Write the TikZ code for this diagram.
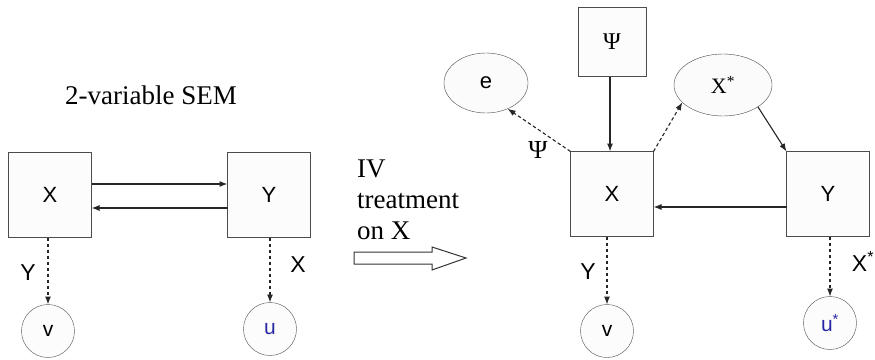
\documentclass[tikz,border=0pt]{standalone}
\usepackage{fontspec}
\setmainfont{Liberation Serif}
\newfontfamily\arialfont{Liberation Sans}
\usetikzlibrary{arrows.meta,shapes.geometric}
\definecolor{ublue}{RGB}{40,40,165}
\tikzset{
  varbox/.style={draw=black!70, fill=gray!2, inner sep=0pt, outer sep=0pt,
    minimum width=83pt, minimum height=85pt, font=\arialfont\fontsize{22}{26}\selectfont},
  errcirc/.style={circle, draw=black!70, fill=gray!2, inner sep=0pt, outer sep=0pt,
    minimum size=53pt, font=\arialfont\fontsize{21}{25}\selectfont},
  latent/.style={ellipse, draw=black!70, fill=gray!3, inner sep=0pt, outer sep=0pt},
  causal/.style={draw=black!85, line width=1.1pt, -{Latex[length=8pt,width=6pt]}},
  errpath/.style={causal, dash pattern=on 3.5pt off 2.5pt},
  edgelab/.style={font=\arialfont\fontsize{23}{27}\selectfont}
}
\begin{document}
\begin{tikzpicture}[x=1pt,y=-1pt]
    \useasboundingbox (0,0) rectangle (875,359);

    % left: 2-variable SEM
    \node[font=\rmfamily\fontsize{27}{32}\selectfont] (title) at (151,95) {2-variable SEM};
    \node[varbox] (lx) at (50,195) {X};
    \node[varbox] (ly) at (269,195) {Y};
    \node[errcirc] (lv) at (48,331) {v};
    \node[errcirc, text=ublue] (lu) at (270,329) {u};

    % feedback loop X <-> Y
    \draw[causal] ([yshift=11pt]lx.east) -- ([yshift=11pt]ly.west);
    \draw[causal] ([yshift=-13pt]ly.west) -- ([yshift=-13pt]lx.east);

    % errors
    \draw[errpath] (lx.south -| lv.north) -- (lv.north);
    \draw[errpath] (ly.south -| lu.north) -- (lu.north);
    \node[edgelab] (lyl) at (28,273) {Y};
    \node[edgelab] (lxl) at (298,265) {X};

    % IV treatment
    \node[anchor=north west, inner sep=0pt, align=left,
      font=\rmfamily\fontsize{27}{31}\selectfont] (treat) at (357,160) {IV\\treatment\\on X};
    \draw[black!80, line width=1pt, fill=white]
      (354,252) -- (432,252) -- (432,247) -- (466,258) -- (432,270)
      -- (432,264) -- (354,264) -- cycle;

    % right: after the IV treatment
    \node[varbox, minimum width=68pt, minimum height=69pt,
      font=\rmfamily\fontsize{24}{28}\selectfont] (rpsi) at (612,42) {Ψ};
    \node[latent, minimum width=84pt, minimum height=60pt,
      font=\arialfont\fontsize{22}{26}\selectfont] (re) at (486,83) {e};
    \node[latent, minimum width=98pt, minimum height=62pt,
      font=\rmfamily\fontsize{22}{26}\selectfont] (rxs) at (723,85) {X\textsuperscript{*}};
    \node[varbox] (rx) at (612,194) {X};
    \node[varbox] (ry) at (828,194) {Y};
    \node[errcirc] (rv) at (607,331) {v};
    \node[errcirc, text=ublue] (ru) at (830,323) {u\textsuperscript{*}};

    % paths
    \draw[causal] (rpsi.south -| 610,0) -- (rx.north -| 610,0);
    \draw[errpath] (rx.north west) -- (re.-50);
    \draw[errpath] (rx.north east) -- (rxs.-157);
    \draw[causal] (rxs.-32) -- (ry.north west);
    \draw[causal] ([yshift=-13pt]ry.west) -- ([yshift=-13pt]rx.east);
    \draw[errpath] (rx.south -| rv.north) -- (rv.north);
    \draw[errpath] (ry.south -| ru.north) -- (ru.north);

    % labels
    \node[font=\rmfamily\fontsize{26}{30}\selectfont] (rpsil) at (538,150) {Ψ};
    \node[edgelab] (ryl) at (588,272) {Y};
    \node[edgelab] (rxl) at (863,261) {X\textsuperscript{*}};
  \end{tikzpicture}
\end{document}
